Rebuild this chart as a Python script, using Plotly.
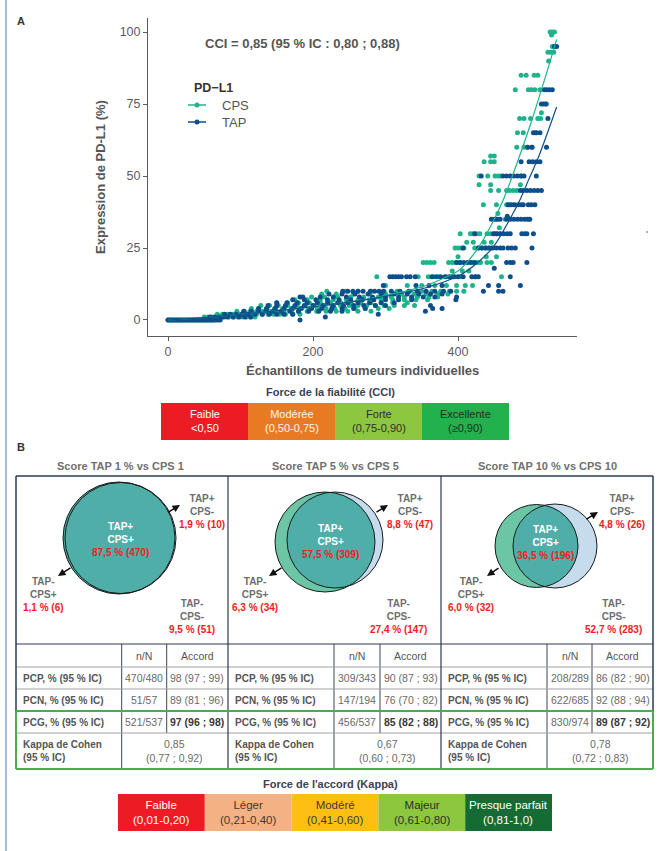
import numpy as np
import plotly.graph_objects as go

W, H = 659, 851
FONT = "Liberation Sans, Arial, Helvetica, sans-serif"

CPS_COLOR = "#1FB38C"
TAP_COLOR = "#0D4E8B"

# ---------------- Panel A data ----------------
CPS_LEVELS = [0, 1, 2, 3, 4, 5, 6, 7, 8, 9, 10, 12, 15, 17, 20, 22, 25, 27, 30, 32, 35, 37,
              40, 45, 47, 50, 55, 57, 60, 65, 70, 72, 75, 80, 85, 90, 93, 95, 99, 100]
CPS_X_AT_LEVEL = [
    [0, 3, 6, 9, 12, 15, 18, 21, 24, 27, 30, 33, 36, 39, 42, 45, 48, 51, 54, 57, 60, 63],
    [50, 55, 60, 66, 72, 78, 84, 90, 96, 102, 108, 114, 120],
    [68, 75, 82, 90, 98, 106, 114, 122, 130, 138, 146, 154, 162, 172, 182],
    [95, 104, 113, 122, 131, 140, 150, 160, 170, 180, 192, 205, 218, 232, 248, 262, 280],
    [115, 125, 136, 147, 158, 170, 182, 194, 206, 218, 230, 244, 258, 272, 290, 305],
    [128, 140, 152, 165, 178, 190, 202, 214, 226, 238, 250, 262, 274, 286, 298, 312, 326, 340],
    [150, 165, 180, 195, 210, 224, 238, 252, 266, 280, 294, 310, 330],
    [175, 192, 210, 228, 246, 262, 278, 294, 310, 326, 342, 358],
    [198, 216, 234, 252, 270, 290, 308, 326, 344, 360, 372],
    [212, 232, 256, 278, 300, 322, 340, 356, 372, 386],
    [219, 245, 262, 280, 298, 316, 334, 350, 364, 376, 388, 398, 408],
    [300, 330, 350, 368, 384, 398, 410, 420],
    [288, 345, 359, 366, 373, 384, 390, 396, 403, 424, 460],
    [392, 406, 415],
    [352, 357, 362, 367, 387, 392, 397, 402, 417, 422, 427, 431, 440, 446],
    [400, 439, 453],
    [396, 400, 404, 408, 423, 428, 433, 438, 442, 446],
    [412, 421, 436, 446],
    [403, 417, 421, 426, 430, 440, 445, 450, 454, 458],
    [457],
    [453, 465],
    [455],
    [435, 453, 467, 471, 476],
    [445, 456, 467, 471, 476, 481],
    [429, 445, 486],
    [429, 441, 451, 455, 458, 487],
    [436, 445, 450],
    [445, 450],
    [481, 491, 496, 502],
    [482, 490, 507],
    [485, 491, 500, 510, 514],
    [515],
    [522],
    [479, 497, 501, 506, 513],
    [487, 494, 505, 510],
    [525],
    [524, 528, 532],
    [530, 534],
    [529],
    [527, 530, 533],
]

TAP_LEVELS = [0, 1, 2, 3, 4, 5, 6, 7, 8, 9, 10, 12, 15, 18, 20, 25, 30, 35, 36, 40, 45,
              50, 55, 60, 65, 70, 75, 80, 95]
TAP_X_AT_LEVEL = [
    [0, 3, 6, 9, 12, 15, 18, 21, 24, 27, 30, 33, 36, 39, 42, 45, 48, 51, 54, 57, 60, 63, 66, 69, 72, 182],
    [58, 64, 70, 76, 82, 90, 98, 106, 114, 217],
    [78, 86, 94, 102, 110, 120, 130, 140, 150, 160, 172, 290],
    [105, 115, 125, 135, 145, 156, 168, 180, 194, 208, 224, 240, 355],
    [125, 136, 148, 160, 172, 184, 198, 212, 226, 240, 256, 272, 365, 378],
    [138, 150, 162, 175, 188, 200, 214, 228, 242, 256, 270, 286, 300, 362],
    [150, 164, 178, 192, 206, 220, 234, 248, 262, 278, 294, 312],
    [172, 188, 204, 220, 236, 252, 268, 284, 300, 318, 336, 397],
    [182, 186, 210, 228, 246, 264, 282, 300, 318, 336, 352, 368, 398],
    [222, 240, 258, 276, 294, 312, 330, 346, 362, 378],
    [241, 248, 255, 262, 269, 279, 285, 291, 297, 308, 320, 332, 344, 356, 368, 380, 390, 435, 456, 462],
    [297, 342, 360, 378, 442, 456, 486],
    [306, 310, 314, 318, 322, 329, 334, 341, 364, 370, 376, 382, 388, 394, 400, 407, 419, 424, 428, 472],
    [450],
    [398, 403, 408, 413, 418, 423, 467, 472, 476, 495],
    [407, 428, 433, 438, 443, 448, 453, 458, 462, 469, 474, 479, 502],
    [423, 449, 453, 458, 463, 468, 472, 488, 492, 495, 504],
    [446, 450, 454, 458, 467, 472, 477, 482, 487, 492, 496, 499],
    [468],
    [469, 473, 478, 483, 487, 490, 497, 501, 506],
    [486, 490, 495, 500, 505, 510, 515],
    [432, 462, 467, 472, 477, 482, 487, 491, 508],
    [487, 498, 503, 508, 513],
    [496, 502, 522],
    [504, 508, 513],
    [524],
    [515, 518, 521],
    [519, 522, 526, 530],
    [533, 536],
]

CPS_FIT_X = [0, 50, 100, 150, 200, 250, 300, 350, 380, 400, 425, 450, 462, 475, 500, 520, 536]
CPS_FIT_Y = [0, 0.8, 2.0, 3.2, 4.6, 6.3, 8.5, 11.5, 14.5, 17.0, 24.0, 35.0, 41.5, 50.0, 68.0, 84.0, 97.5]
TAP_FIT_X = [0, 50, 100, 150, 200, 250, 300, 357, 403, 426, 449, 467, 485, 497, 510, 536]
TAP_FIT_Y = [0, 0.8, 2.0, 3.2, 4.6, 6.2, 8.2, 11.3, 15.6, 19.7, 25.5, 33.0, 41.5, 48.5, 56.0, 74.0]

X_TICKS = [0, 200, 400]
Y_TICKS = [0, 25, 50, 75, 100]

CCI_TEXT = "CCI = 0,85 (95 % IC : 0,80 ; 0,88)"
CCI_NAMES = ["Faible", "Modérée", "Forte", "Excellente"]
CCI_RANGES = ["&lt;0,50", "(0,50-0,75)", "(0,75-0,90)", "(≥0,90)"]
CCI_COLORS = ["#EC1C24", "#E87A24", "#8DC63F", "#22B14C"]
CCI_TXT_COLORS = ["#FFFFFF", "#FFF6EC", "#2E2E2E", "#1F2F22"]

# ---------------- Panel B data ----------------
PANEL_TITLES = ["Score TAP 1 % vs CPS 1", "Score TAP 5 % vs CPS 5", "Score TAP 10 % vs CPS 10"]
VENN_BOTH = ["87,5 % (470)", "57,5 % (309)", "36,5 % (196)"]
VENN_TAPPOS_CPSNEG = ["1,9 % (10)", "8,8 % (47)", "4,8 % (26)"]
VENN_TAPNEG_CPSPOS = ["1,1 % (6)", "6,3 % (34)", "6,0 % (32)"]
VENN_NEITHER = ["9,5 % (51)", "27,4 % (147)", "52,7 % (283)"]
ROW_LABELS = ["PCP, % (95 % IC)", "PCN, % (95 % IC)", "PCG, % (95 % IC)"]
PCP_NN = ["470/480", "309/343", "208/289"]
PCP_ACC = ["98 (97 ; 99)", "90 (87 ; 93)", "86 (82 ; 90)"]
PCN_NN = ["51/57", "147/194", "622/685"]
PCN_ACC = ["89 (81 ; 96)", "76 (70 ; 82)", "92 (88 ; 94)"]
PCG_NN = ["521/537", "456/537", "830/974"]
PCG_ACC = ["97 (96 ; 98)", "85 (82 ; 88)", "89 (87 ; 92)"]
KAPPA = ["0,85", "0,67", "0,78"]
KAPPA_CI = ["(0,77 ; 0,92)", "(0,60 ; 0,73)", "(0,72 ; 0,83)"]

KAPPA_NAMES = ["Faible", "Léger", "Modéré", "Majeur", "Presque parfait"]
KAPPA_RANGES = ["(0,01-0,20)", "(0,21-0,40)", "(0,41-0,60)", "(0,61-0,80)", "(0,81-1,0)"]
KAPPA_COLORS = ["#ED1C24", "#F4B183", "#FDBF14", "#8DC63F", "#166B35"]
KAPPA_TXT_COLORS = ["#FFFFFF", "#3A3A3A", "#3A3A3A", "#2E2E2E", "#FFFFFF"]

# ---------------- build ----------------
cps_x, cps_y = [], []
for lv, xs in zip(CPS_LEVELS, CPS_X_AT_LEVEL):
    cps_x += xs
    cps_y += [lv] * len(xs)
tap_x, tap_y = [], []
for lv, xs in zip(TAP_LEVELS, TAP_X_AT_LEVEL):
    tap_x += xs
    tap_y += [lv] * len(xs)

fig = go.Figure()
fig.add_trace(go.Scatter(x=cps_x, y=cps_y, mode="markers", hoverinfo="skip", showlegend=False,
                         marker=dict(size=5, color=CPS_COLOR, line=dict(width=0))))
fig.add_trace(go.Scatter(x=tap_x, y=tap_y, mode="markers", hoverinfo="skip", showlegend=False,
                         marker=dict(size=5, color=TAP_COLOR, line=dict(width=0))))
fig.add_trace(go.Scatter(x=CPS_FIT_X, y=CPS_FIT_Y, mode="lines", hoverinfo="skip", showlegend=False,
                         line=dict(color=CPS_COLOR, width=1.2, shape="spline")))
fig.add_trace(go.Scatter(x=TAP_FIT_X, y=TAP_FIT_Y, mode="lines", hoverinfo="skip", showlegend=False,
                         line=dict(color=TAP_COLOR, width=1.2, shape="spline")))
# invisible trace for the pixel overlay axes
fig.add_trace(go.Scatter(x=[1], y=[1], xaxis="x2", yaxis="y2", mode="markers",
                         marker=dict(opacity=0), hoverinfo="skip", showlegend=False))

shapes, anns = [], []


def txt(x, y, s, size=10, color="#555555", xanchor="center", yanchor="middle", align="center", angle=0):
    anns.append(dict(x=x, y=y, xref="x2", yref="y2", text=s, showarrow=False,
                     font=dict(family=FONT, size=size, color=color),
                     xanchor=xanchor, yanchor=yanchor, align=align, textangle=angle))


def hline(x0, x1, y, color, w=1):
    shapes.append(dict(type="line", xref="x2", yref="y2", x0=x0, x1=x1, y0=y, y1=y,
                       line=dict(color=color, width=w), layer="above"))


def vline(x, y0, y1, color, w=1):
    shapes.append(dict(type="line", xref="x2", yref="y2", x0=x, x1=x, y0=y0, y1=y1,
                       line=dict(color=color, width=w), layer="above"))


def rect(x0, y0, x1, y1, fill):
    shapes.append(dict(type="rect", xref="x2", yref="y2", x0=x0, x1=x1, y0=y0, y1=y1,
                       fillcolor=fill, line=dict(width=0), layer="above"))


def circle(cx, cy, r, fill=None, line_color=None, lw=1):
    shapes.append(dict(type="circle", xref="x2", yref="y2", x0=cx - r, x1=cx + r, y0=cy - r, y1=cy + r,
                       fillcolor=fill if fill else "rgba(0,0,0,0)",
                       line=dict(color=line_color if line_color else "rgba(0,0,0,0)",
                                 width=lw if line_color else 0), layer="above"))


def lens(c1, r1, c2, r2, fill):
    t = np.linspace(0, 2 * np.pi, 361)
    pts = []
    for (ca, ra), (cb, rb) in (((c1, r1), (c2, r2)), ((c2, r2), (c1, r1))):
        px = ca[0] + ra * np.cos(t)
        py = ca[1] + ra * np.sin(t)
        inside = (px - cb[0]) ** 2 + (py - cb[1]) ** 2 <= rb ** 2
        pts += list(zip(px[inside], py[inside]))
    pts = np.array(pts)
    cx, cy = pts.mean(axis=0)
    order = np.argsort(np.arctan2(pts[:, 1] - cy, pts[:, 0] - cx))
    pts = pts[order]
    path = "M " + " L ".join(f"{x:.2f},{y:.2f}" for x, y in pts) + " Z"
    shapes.append(dict(type="path", xref="x2", yref="y2", path=path, fillcolor=fill,
                       line=dict(width=0), layer="above"))


def arrow(tx, ty, hx, hy):
    anns.append(dict(x=hx, y=hy, ax=tx, ay=ty, xref="x2", yref="y2", axref="x2", ayref="y2",
                     text="", showarrow=True, arrowhead=2, arrowsize=1, arrowwidth=1.5,
                     arrowcolor="#111111", standoff=0, startstandoff=0))


# left border & small dot
vline(6, 0, H, "#8AA4C8", 1.5)
circle(647, 232, 1.1, fill="#9A9A9A")

# ---- Panel A annotations ----
txt(21, 21, "<b>A</b>", 11, "#333333")
txt(302, 43, "<b>" + CCI_TEXT + "</b>", 13, "#555555")
txt(100, 177, "<b>Expression de PD-L1 (%)</b>", 13, "#555555", angle=-90)
txt(362, 370, "<b>Échantillons de tumeurs individuelles</b>", 13, "#555555")
# legend
txt(192, 88, "<b>PD−L1</b>", 12.5, "#333333", xanchor="left")
for yy, col, name in ((105, CPS_COLOR, "CPS"), (122, TAP_COLOR, "TAP")):
    hline(188, 206, yy, col, 1.5)
    circle(197, yy, 2.5, fill=col)
    txt(220, yy, name, 13, "#555555", xanchor="left")

# CCI scale
txt(330, 392, "<b>Force de la fiabilité (CCI)</b>", 11, "#3B4252")
for i in range(4):
    x0 = 161 + 87 * i
    rect(x0, 403, x0 + 87, 440, CCI_COLORS[i])
    txt(x0 + 43.5, 421, CCI_NAMES[i] + "<br>" + CCI_RANGES[i], 11, CCI_TXT_COLORS[i])

# ---- Panel B ----
txt(21, 447, "<b>B</b>", 11, "#333333")
P_LEFT = [16, 228, 441]
P_LAB = [121.7, 334, 547]
P_NN = [166.7, 380, 592]
P_RIGHT = [228, 441, 653]
TITLE_X = [120, 335, 547]

GREEN_V = "#6CC5A4"
BLUE_V = "#C6DCEC"
TEAL_V = "#50AEA9"
RED = "#EE1C25"
GRAY_T = "#6E6E6E"

# Venn geometry (layout)
VENN = [
    dict(c1=(119, 538), r1=56, c2=(120.5, 538), r2=55.5),
    dict(c1=(325, 542), r1=50, c2=(335, 540), r2=48),
    dict(c1=(536.5, 546), r1=41.5, c2=(555, 546), r2=42),
]
CENTER_TXT = [(120, 539), (330, 541), (545, 542)]
UR_TXT = [(202, 511), (410, 511), (622, 511)]
LL_TXT = [(43, 594), (255, 594), (471, 594)]
LR_TXT = [(192, 616), (398, 616), (613, 616)]
UR_ARROW = [((167, 513), (180, 505)), ((375, 513), (388, 505)), ((585, 520), (598, 512))]
LL_ARROW = [((72, 567), (58, 576)), ((283, 567), (269, 576)), ((500, 567), (487, 576))]

for i in range(3):
    txt(TITLE_X[i], 466, "<b>" + PANEL_TITLES[i] + "</b>", 11, "#707070")
    v = VENN[i]
    if i == 0:
        circle(v["c1"][0], v["c1"][1], v["r1"], fill=TEAL_V)
    else:
        circle(v["c1"][0], v["c1"][1], v["r1"], fill=GREEN_V)
        circle(v["c2"][0], v["c2"][1], v["r2"], fill=BLUE_V)
        lens(v["c1"], v["r1"], v["c2"], v["r2"], TEAL_V)
    circle(v["c1"][0], v["c1"][1], v["r1"], line_color="#1A1A1A", lw=1)
    circle(v["c2"][0], v["c2"][1], v["r2"], line_color="#1A1A1A", lw=1)

    cx, cy = CENTER_TXT[i]
    txt(cx, cy, f"<b>TAP+<br>CPS+<br><span style='color:{RED}'>{VENN_BOTH[i]}</span></b>", 10, "#FFFFFF")
    x, y = UR_TXT[i]
    txt(x, y, f"<b>TAP+<br>CPS-<br><span style='color:{RED}'>{VENN_TAPPOS_CPSNEG[i]}</span></b>", 10, GRAY_T)
    x, y = LL_TXT[i]
    txt(x, y, f"<b>TAP-<br>CPS+<br><span style='color:{RED}'>{VENN_TAPNEG_CPSPOS[i]}</span></b>", 10, GRAY_T)
    x, y = LR_TXT[i]
    txt(x, y, f"<b>TAP-<br>CPS-<br><span style='color:{RED}'>{VENN_NEITHER[i]}</span></b>", 10, GRAY_T)
    (tx, ty), (hx, hy) = UR_ARROW[i]
    arrow(tx, ty, hx, hy)
    (tx, ty), (hx, hy) = LL_ARROW[i]
    arrow(tx, ty, hx, hy)

    # table text
    lab_x = P_LEFT[i] + 5
    nn_c = (P_LAB[i] + P_NN[i]) / 2
    acc_c = (P_NN[i] + P_RIGHT[i]) / 2
    kap_c = (P_LAB[i] + P_RIGHT[i]) / 2
    txt(nn_c, 656, "n/N", 10.5, "#555555")
    txt(acc_c, 656, "Accord", 10.5, "#555555")
    rows = [(678, PCP_NN[i], PCP_ACC[i]), (700, PCN_NN[i], PCN_ACC[i]), (722, PCG_NN[i], PCG_ACC[i])]
    for j, (yy, nn, acc) in enumerate(rows):
        txt(lab_x, yy, "<b>" + ROW_LABELS[j] + "</b>", 10, "#555555", xanchor="left")
        txt(nn_c, yy, nn, 10.5, "#6A6A6A")
        if j == 2:
            txt(acc_c, yy, "<b>" + acc + "</b>", 10.5, "#3A3A3A")
        else:
            txt(acc_c, yy, acc, 10.5, "#6A6A6A")
    txt(lab_x, 751, "<b>Kappa de Cohen<br>(95 % IC)</b>", 10, "#555555", xanchor="left", align="left")
    txt(kap_c, 751, KAPPA[i] + "<br>" + KAPPA_CI[i], 10.5, "#6A6A6A")

    # inner table lines
    vline(P_LAB[i], 644, 769, "#3C4458", 1)
    vline(P_NN[i], 644, 733, "#3C4458", 1)

NAVY = "#2C3A56"
GREEN_L = "#4CAA50"
GRAY_L = "#A0A0A0"
hline(16, 653, 667, GRAY_L)
hline(16, 653, 689, GRAY_L)
hline(16, 653, 733, GRAY_L)
hline(16, 653, 644, NAVY, 1.2)
hline(16, 653, 476, NAVY, 1.5)
vline(16, 476, 711, NAVY, 1.5)
vline(653, 476, 711, NAVY, 1.5)
vline(228, 476, 769, NAVY, 1.2)
vline(441, 476, 769, NAVY, 1.2)
hline(16, 653, 711, GREEN_L, 2)
hline(16, 653, 769, GREEN_L, 2)
vline(16, 711, 769, GREEN_L, 2)
vline(653, 711, 769, GREEN_L, 2)

# Kappa scale
txt(330, 784, "<b>Force de l'accord (Kappa)</b>", 11, "#3B4252")
for i in range(5):
    x0 = 118 + 86.8 * i
    rect(x0, 794, x0 + 86.8, 831, KAPPA_COLORS[i])
    txt(x0 + 43.4, 812.5, KAPPA_NAMES[i] + "<br>" + KAPPA_RANGES[i], 11.5, KAPPA_TXT_COLORS[i])

# ---------------- layout ----------------
AX_COL = "#5A5A5A"
fig.update_layout(
    width=W, height=H, margin=dict(l=0, r=0, t=0, b=0),
    paper_bgcolor="white", plot_bgcolor="rgba(0,0,0,0)",
    showlegend=False, font=dict(family=FONT),
    xaxis=dict(domain=[148 / W, 577 / W], range=[-27.6, 564.1], anchor="y",
               showline=True, linecolor=AX_COL, linewidth=1, ticks="outside", ticklen=4,
               tickcolor=AX_COL, tickvals=X_TICKS, showgrid=False, zeroline=False,
               tickfont=dict(family=FONT, size=12.5, color="#5C5C5C")),
    yaxis=dict(domain=[1 - 336 / H, 1 - 18 / H], range=[-5.56, 104.9], anchor="x",
               showline=True, linecolor=AX_COL, linewidth=1, ticks="outside", ticklen=4,
               tickcolor=AX_COL, tickvals=Y_TICKS, showgrid=False, zeroline=False,
               tickfont=dict(family=FONT, size=12.5, color="#5C5C5C")),
    xaxis2=dict(domain=[0, 1], range=[0, W], anchor="y2", visible=False, fixedrange=True),
    yaxis2=dict(domain=[0, 1], range=[H, 0], anchor="x2", visible=False, fixedrange=True),
    shapes=shapes, annotations=anns,
)

fig.write_html("out.html", config={"displayModeBar": False},
               post_script="document.body.style.margin='0px';document.body.style.padding='0px';")
